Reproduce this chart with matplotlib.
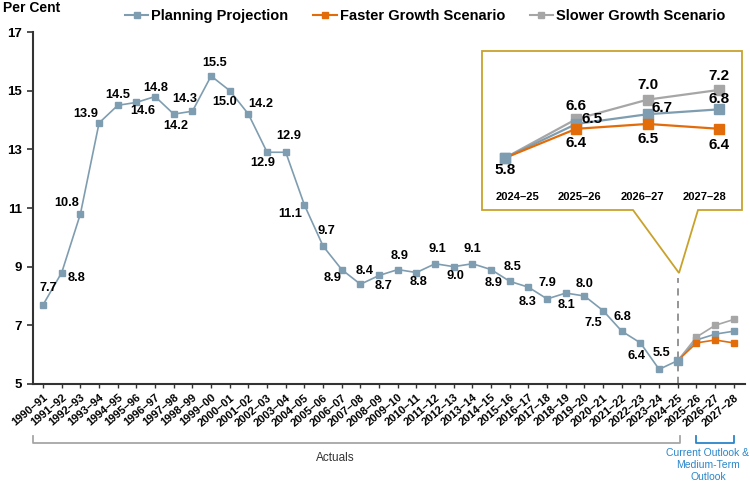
import matplotlib
matplotlib.use('Agg')
import matplotlib.pyplot as plt
import numpy as np
from matplotlib.lines import Line2D
from matplotlib.patches import Polygon
from matplotlib.transforms import blended_transform_factory

plt.rcParams['font.family'] = ['Liberation Sans', 'DejaVu Sans']

# 数据
periods = ['1990–91', '1991–92', '1992–93', '1993–94', '1994–95', '1995–96', '1996–97',
           '1997–98', '1998–99', '1999–00', '2000–01', '2001–02', '2002–03', '2003–04',
           '2004–05', '2005–06', '2006–07', '2007–08', '2008–09', '2009–10', '2010–11',
           '2011–12', '2012–13', '2013–14', '2014–15', '2015–16', '2016–17', '2017–18',
           '2018–19', '2019–20', '2020–21', '2021–22', '2022–23', '2023–24', '2024–25',
           '2025–26', '2026–27', '2027–28']
planning = [7.7, 8.8, 10.8, 13.9, 14.5, 14.6, 14.8, 14.2, 14.3, 15.5, 15.0, 14.2, 12.9, 12.9,
            11.1, 9.7, 8.9, 8.4, 8.7, 8.9, 8.8, 9.1, 9.0, 9.1, 8.9, 8.5, 8.3, 7.9, 8.1, 8.0,
            7.5, 6.8, 6.4, 5.5, 5.8, 6.5, 6.7, 6.8]
inset_periods = ['2024–25', '2025–26', '2026–27', '2027–28']
faster = [5.8, 6.4, 6.5, 6.4]
slower = [5.8, 6.6, 7.0, 7.2]

# 标签偏移（像素）
label_off = [(5, 17), (15, -5), (-14, 11), (-13, 9), (0, 10), (6, -9), (1, 9), (2, -12),
             (-8, 12), (3, 13), (-5, -11), (12, 10), (-4, -11), (3, 16), (-14, -9), (3, 15),
             (-9, -8), (4, 13), (4, -11), (2, 14), (2, -9), (2, 15), (2, -9), (0, 15),
             (2, -13), (3, 14), (-1, -15), (0, 16), (1, -12), (0, 12), (-10, -12), (1, 14),
             (-4, -13), (2, 16)]

c_plan = '#7f9db0'
c_fast = '#e36c0a'
c_slow = '#a6a6a6'
c_gold = '#c9a22c'

fig = plt.figure(figsize=(7.5, 4.84), dpi=100)
ax = fig.add_axes([33/750, 1-384/484, (745-33)/750, (384-32)/484])

x = np.arange(len(periods))
start = periods.index(inset_periods[0])
xp = x[start:]

ax.plot(x, planning, color=c_plan, lw=1.2, marker='s', ms=4.5, zorder=3,
        label='Planning Projection')
ax.plot(xp, slower, color=c_slow, lw=1.2, marker='s', ms=5, markevery=slice(1, None),
        zorder=4, label='Slower Growth Scenario')
ax.plot(xp, faster, color=c_fast, lw=1.2, marker='s', ms=5, markevery=slice(1, None),
        zorder=5, label='Faster Growth Scenario')
ax.plot(xp[0], planning[start], color=c_plan, marker='s', ms=5.5, zorder=6)

for i, (dx, dy) in enumerate(label_off):
    ax.annotate(f'{planning[i]:.1f}', (x[i], planning[i]), xytext=(dx, dy),
                textcoords='offset pixels', ha='center', va='center',
                fontsize=9.2, fontweight='bold', color='black')

ax.axvline(start, ymin=0, ymax=0.30, color='#8c8c8c', lw=1.3, ls=(0, (4, 3)), zorder=1)

ax.set_xlim(-0.54, 37.6)
ax.set_ylim(5, 17)
ax.set_yticks(range(5, 18, 2))
ax.set_xticks(x)
ax.set_xticklabels(periods, rotation=40, ha='right', va='top', rotation_mode='anchor',
                   fontsize=8, fontweight='bold')
for t in ax.get_yticklabels():
    t.set_fontweight('bold')
    t.set_fontsize(9.5)
ax.tick_params(axis='y', length=4, width=1.2, pad=4, color='#333333')
ax.tick_params(axis='x', length=3, width=1, pad=3, color='#333333')
ax.spines['right'].set_visible(False)
ax.spines['top'].set_visible(False)
ax.spines['left'].set_linewidth(1.5)
ax.spines['bottom'].set_linewidth(1.5)
ax.spines['left'].set_color('#333333')
ax.spines['bottom'].set_color('#333333')

fig.text(3/750, 1-8/484, 'Per Cent', fontsize=10, fontweight='bold', va='center', ha='left')

# 图例
h = [Line2D([], [], color=c_plan, lw=1.5, marker='s', ms=5),
     Line2D([], [], color=c_fast, lw=1.5, marker='s', ms=5),
     Line2D([], [], color=c_slow, lw=1.5, marker='s', ms=5)]
fig.legend(h, ['Planning Projection', 'Faster Growth Scenario', 'Slower Growth Scenario'],
           loc='center', bbox_to_anchor=(0.567, 1-16/484), ncol=3, frameon=False,
           prop={'size': 10.5, 'weight': 'bold'}, handlelength=1.6, handletextpad=0.2,
           columnspacing=1.7, borderaxespad=0)

# 底部括号
tr = blended_transform_factory(ax.transData, fig.transFigure)
yb, yt = 1-443/484, 1-436/484
ax.plot([-0.54, -0.54, start + 0.1, start + 0.1], [yt, yb, yb, yt], transform=tr,
        color='#a6a6a6', lw=1.3, clip_on=False)
ax.plot([start + 0.95, start + 0.95, x[-1], x[-1]], [yt, yb, yb, yt], transform=tr,
        color='#2a86c9', lw=1.3, clip_on=False)
fig.text(335/750, 1-458/484, 'Actuals', fontsize=8.5, ha='center', va='center', color='#333333')
fig.text(708/750, 1-465/484, 'Current Outlook &\nMedium-Term\nOutlook', fontsize=7.5,
         ha='center', va='center', color='#2a86c9', linespacing=1.2)

# 放大框
bx0, bx1, by0, by1 = 482, 742, 51, 210
pts = [(bx0, by0), (bx1, by0), (bx1, by1), (698, by1), (679, 273), (633, by1), (bx0, by1)]
pts = [(px/750, 1-py/484) for px, py in pts]
fig.add_artist(Polygon(pts, closed=True, transform=fig.transFigure, facecolor='white',
                       edgecolor=c_gold, lw=1.3, zorder=2))

ax2 = fig.add_axes([bx0/750, 1-by1/484, (bx1-bx0)/750, (by1-by0)/484], zorder=3)
ax2.patch.set_visible(False)
xi = np.arange(len(inset_periods))
plan_in = planning[start:]
ax2.plot(xi, slower, color=c_slow, lw=1.6, marker='s', ms=6.5, markevery=slice(1, None))
ax2.plot(xi, plan_in, color=c_plan, lw=1.6, marker='s', ms=6.5)
ax2.plot(xi, faster, color=c_fast, lw=1.6, marker='s', ms=6.5, markevery=slice(1, None))
ax2.plot(xi[0], plan_in[0], color=c_plan, marker='s', ms=6.5)
ax2.set_xlim(-0.32, 3.32)
ax2.set_ylim(4.73, 8.0)
ax2.axis('off')

inset_labels = [(plan_in, [(0, -12), (16, 5), (14, 6), (0, 10)]),
                (slower, [None, (0, 13), (0, 15), (0, 14)]),
                (faster, [None, (0, -14), (0, -15), (0, -16)])]
for vals, offs in inset_labels:
    for i, off in enumerate(offs):
        if off is None:
            continue
        ax2.annotate(f'{vals[i]:.1f}', (xi[i], vals[i]), xytext=off, textcoords='offset pixels',
                     ha='center', va='center', fontsize=11, fontweight='bold')
for i, lab in enumerate(inset_periods):
    ax2.text(0.17 + i * 0.877, 5.0, lab, ha='center', va='center', fontsize=8,
             fontweight='bold')

fig.savefig('out.png', dpi=100)
